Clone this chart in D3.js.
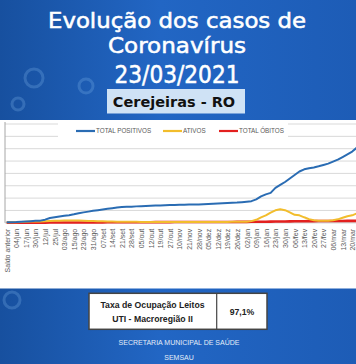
<!DOCTYPE html>
<html><head><meta charset="utf-8">
<script src="https://cdn.jsdelivr.net/npm/d3@7"></script>
<style>html,body{margin:0;padding:0;background:#1f60bb;}svg{display:block;}</style>
</head><body>
<script>
const xLabels = ["Saldo anterior","04/jun","17/jun","30/jun","12/jul","25/jul","03/ago","15/ago","23/ago","31/ago","07/set","14/set","21/set","28/set","05/out","12/out","19/out","27/out","10/nov","21/nov","28/nov","05/dez","12/dez","19/dez","26/dez","02/jan","09/jan","16/jan","23/jan","30/jan","06/fev","13/fev","20/fev","27/fev","06/mar","13/mar","20/mar"];
// two data points per label interval
const positivos = [8,8,11,16,21,27,32,35,51,77,
  89,102,113,124,137,153,169,181,194,205,
  215,226,237,248,255,258,261,266,269,273,
  276,279,282,286,289,290,292,294,295,297,
  298,302,305,308,311,315,319,323,327,334,
  342,350,379,427,460,484,565,613,661,718,
  774,831,866,882,897,915,936,958,992,1024,
  1065,1108,1153,1218,1315,1379];
const ativos = [8,8,10,14,18,20,22,22,26,30,
  32,34,36,38,38,36,34,30,28,26,
  24,22,20,18,16,16,15,15,14,14,
  14,14,13,13,13,13,12,12,12,12,
  12,12,12,13,13,14,14,15,15,16,
  16,27,48,89,121,166,202,218,205,169,
  129,121,89,60,40,32,32,32,40,56,
  81,105,121,153,186,210];
const obitos = [1,1,1,2,2,2,3,3,3,4,
  4,4,5,5,5,6,6,6,7,7,
  7,8,8,8,9,9,9,10,10,10,
  10,11,11,11,11,12,12,12,12,12,
  13,13,13,13,14,14,14,14,15,15,
  15,16,16,17,18,19,20,21,22,23,
  24,25,26,27,27,28,28,29,29,30,
  30,31,31,32,33,34];
const yTicks = [0,200,400,600,800,1000,1200,1400,1600];
const seriesNames = ["TOTAL POSITIVOS","ATIVOS","TOTAL ÓBITOS"];
const seriesColors = ["#2a6cb3","#f2bd2c","#e3201f"];
const titleLines = ["Evolução dos casos de","Coronavírus","23/03/2021"];
const place = "Cerejeiras - RO";
const tableLeft = ["Taxa de Ocupação Leitos","UTI - Macroregião II"];
const tableRight = "97,1%";
const footer = ["SECRETARIA MUNICIPAL DE SAÚDE","SEMSAU"];

const W=356,H=364;
const svg=d3.select("body").append("svg").attr("width",W).attr("height",H);
const defs=svg.append("defs");
const g1=defs.append("linearGradient").attr("id","bg").attr("x1",0).attr("x2",1).attr("y1",0).attr("y2",0);
g1.append("stop").attr("offset","0%").attr("stop-color","#17509f");
g1.append("stop").attr("offset","45%").attr("stop-color","#2266c4");
g1.append("stop").attr("offset","100%").attr("stop-color","#1d5cb6");
svg.append("rect").attr("width",W).attr("height",H).attr("fill","url(#bg)");

// faint decorations
const deco=svg.append("g").attr("fill","none").attr("stroke","#7fb2ea").attr("stroke-opacity",0.28).attr("stroke-width",3);
deco.append("circle").attr("cx",34).attr("cy",78).attr("r",9);
deco.append("circle").attr("cx",86).attr("cy",86).attr("r",7);
deco.append("circle").attr("cx",18).attr("cy",104).attr("r",6);
deco.append("circle").attr("cx",12).attr("cy",300).attr("r",8);

// title
const tsizes=[21.5,22,24.5], tbase=[28.3,53.3,82.5], twid=[258,138,125];
titleLines.forEach((t,i)=>{
  svg.append("text").attr("x",177).attr("y",tbase[i]).attr("text-anchor","middle")
    .attr("font-family","DejaVu Sans").attr("font-size",tsizes[i]).attr("fill","#fff")
    .attr("stroke","#fff").attr("stroke-width",0.55)
    .attr("textLength",twid[i]).attr("lengthAdjust","spacingAndGlyphs").text(t);
});
svg.append("rect").attr("x",107).attr("y",89).attr("width",138).attr("height",24.5).attr("fill","#cfe2f5");
svg.append("text").attr("x",174).attr("y",106.5).attr("text-anchor","middle")
  .attr("font-family","DejaVu Sans").attr("font-weight","bold").attr("font-size",14.5).attr("fill","#111").text(place);

// chart panel
svg.append("rect").attr("x",0).attr("y",120).attr("width",W).attr("height",168.5).attr("fill","#fff");
const x=d3.scaleLinear().domain([0,xLabels.length-1]).range([6.7,352.2]);
const y=d3.scaleLinear().domain([0,1600]).range([222.8,124]);
const plotL=5, plotR=W;
svg.append("g").selectAll("line").data(yTicks.slice(1)).join("line")
  .attr("x1",plotL).attr("x2",plotR).attr("y1",d=>y(d)).attr("y2",d=>y(d))
  .attr("stroke","#d9d9d9").attr("stroke-width",1);
svg.append("line").attr("x1",plotL).attr("x2",plotL).attr("y1",y(1600)-2).attr("y2",y(0))
  .attr("stroke","#a6a6a6");
svg.append("line").attr("x1",plotL).attr("x2",plotR).attr("y1",y(0)).attr("y2",y(0)).attr("stroke","#bfbfbf");

// x axis labels
const xa=svg.append("g").attr("transform",`translate(0,${y(0)})`)
  .call(d3.axisBottom(x).tickValues(d3.range(xLabels.length)).tickFormat(i=>xLabels[i]).tickSize(0));
xa.select(".domain").remove();
xa.selectAll("text").attr("font-family","Liberation Sans").attr("font-size",7).attr("fill","#595959")
  .attr("text-anchor","end").attr("transform","rotate(-90)").attr("x",-6).attr("y",0).attr("dy","0.35em");

// lines
const idx=(d,i)=>x(i/2);
const line=d3.line().x(idx).y(d=>y(d));
[[obitos,2],[ativos,1],[positivos,0]].forEach(([arr,k])=>{
  svg.append("path").datum(arr).attr("d",line).attr("fill","none")
    .attr("stroke",seriesColors[k]).attr("stroke-width",k===2?2.6:2).attr("stroke-linejoin","round");
});

// legend
svg.append("rect").attr("x",58).attr("y",120).attr("width",230).attr("height",21).attr("fill","#fff");
const legX=[76,163,219];
seriesNames.forEach((n,i)=>{
  svg.append("line").attr("x1",legX[i]).attr("x2",legX[i]+19).attr("y1",131).attr("y2",131)
    .attr("stroke",seriesColors[i]).attr("stroke-width",2.2);
  svg.append("text").attr("x",legX[i]+20).attr("y",133.3).attr("font-family","Liberation Sans")
    .attr("font-size",6.3).attr("fill","#595959").text(n);
});

// table
svg.append("rect").attr("x",89).attr("y",293.3).attr("width",178).attr("height",36).attr("fill","#fff")
  .attr("stroke","#444").attr("stroke-width",1.5);
svg.append("line").attr("x1",216.7).attr("x2",216.7).attr("y1",293.3).attr("y2",329.3).attr("stroke","#444").attr("stroke-width",1.2);
tableLeft.forEach((t,i)=>{
  svg.append("text").attr("x",152.5).attr("y",307.5+i*14.5).attr("text-anchor","middle")
    .attr("font-family","Liberation Sans").attr("font-weight","bold").attr("font-size",8.7).attr("fill","#222").text(t);
});
svg.append("text").attr("x",242).attr("y",314.8).attr("text-anchor","middle")
  .attr("font-family","Liberation Sans").attr("font-weight","bold").attr("font-size",8.7).attr("fill","#222").text(tableRight);
footer.forEach((t,i)=>{
  svg.append("text").attr("x",179).attr("y",345+i*15).attr("text-anchor","middle")
    .attr("font-family","Liberation Sans").attr("font-size",7).attr("fill","#e3edf8").text(t);
});
</script>
</body></html>
